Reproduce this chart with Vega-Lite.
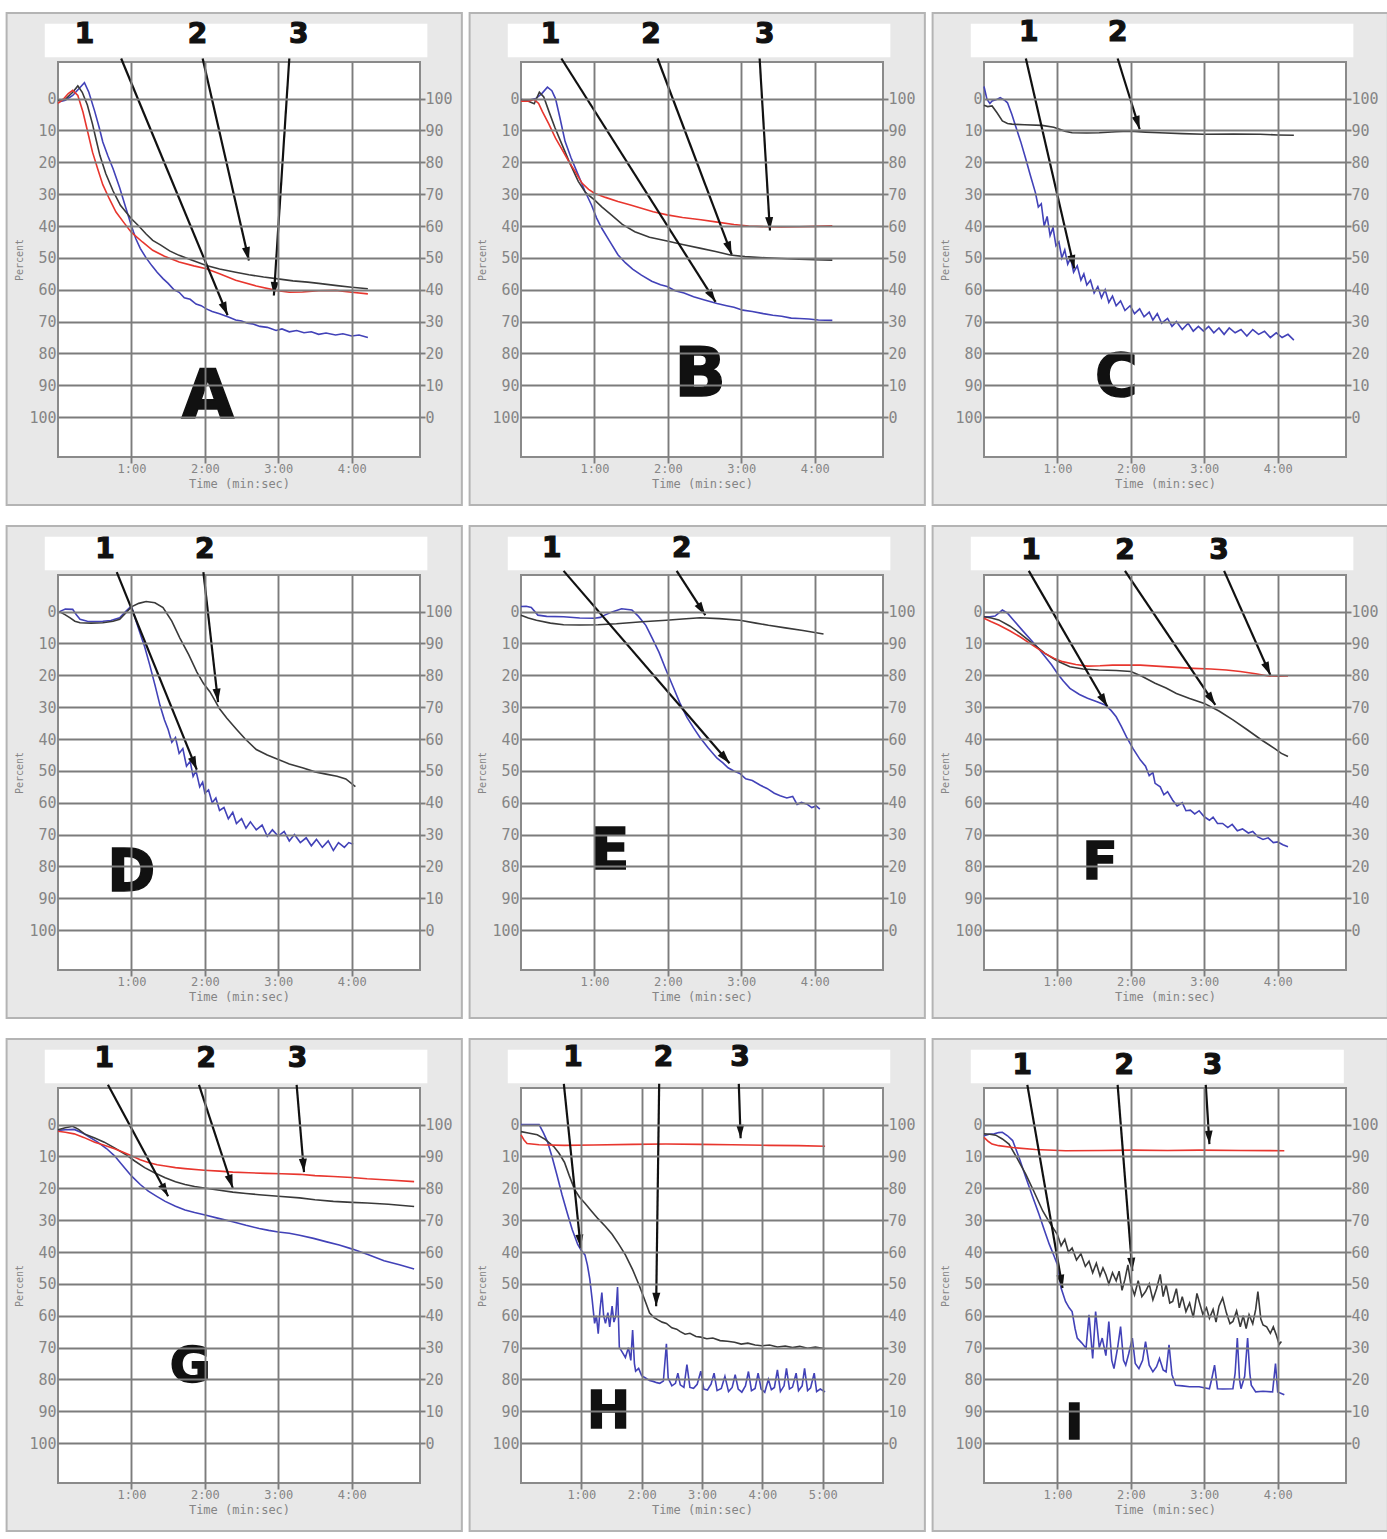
{
"$schema": "https://vega.github.io/schema/vega-lite/v6.json",
"padding": {"left": 5, "top": 11, "right": 0, "bottom": 0},
"background": "white",
"columns": 3,
"spacing": {"row": 17, "column": 5},
"config": {
"view": {"stroke": null},
"axis": {"domain": false, "gridColor": "#7c7c7c", "gridWidth": 1.9, "tickColor": "#7c7c7c", "tickWidth": 1.9, "labelFont": "DejaVu Sans Mono", "labelColor": "#858585", "titleFont": "DejaVu Sans Mono", "titleColor": "#858585", "titleFontWeight": "normal"},
"axisBottom": {"grid": true, "tickSize": 6, "labelFontSize": 12, "labelPadding": 0, "titleFontSize": 12, "titlePadding": 4},
"axisLeft": {"grid": true, "ticks": false, "labelFontSize": 15, "labelPadding": 2, "titleFontSize": 10, "titlePadding": 4},
"axisRight": {"grid": false, "ticks": true, "tickSize": 5, "labelFontSize": 15, "labelPadding": 0},
"text": {"font": "DejaVu Sans", "fontWeight": "bold", "color": "#111", "stroke": "#111"}
},
"datasets": {
"A": [
{"s":"b","t":0.02,"v":1},{"s":"b","t":0.1,"v":0.5},{"s":"b","t":0.2,"v":-1},{"s":"b","t":0.3,"v":-3.5},{"s":"b","t":0.36,"v":-5},{"s":"b","t":0.42,"v":-2},{"s":"b","t":0.5,"v":4},{"s":"b","t":0.56,"v":9},{"s":"b","t":0.61,"v":13.6},{"s":"b","t":0.68,"v":18},{"s":"b","t":0.75,"v":22},{"s":"b","t":0.84,"v":28},{"s":"b","t":0.92,"v":34},{"s":"b","t":1.0,"v":40},{"s":"b","t":1.06,"v":44},{"s":"b","t":1.12,"v":47},{"s":"b","t":1.2,"v":50},{"s":"b","t":1.28,"v":52.5},{"s":"b","t":1.35,"v":54.5},{"s":"b","t":1.43,"v":56.5},{"s":"b","t":1.5,"v":58},{"s":"b","t":1.58,"v":60},{"s":"b","t":1.65,"v":60.8},{"s":"b","t":1.72,"v":62.5},{"s":"b","t":1.8,"v":63},{"s":"b","t":1.88,"v":64.5},{"s":"b","t":1.95,"v":65},{"s":"b","t":2.02,"v":66},{"s":"b","t":2.1,"v":66.8},{"s":"b","t":2.2,"v":67.5},{"s":"b","t":2.33,"v":68.6},{"s":"b","t":2.42,"v":69.5},{"s":"b","t":2.5,"v":69.8},{"s":"b","t":2.58,"v":70.5},{"s":"b","t":2.65,"v":70.7},{"s":"b","t":2.75,"v":71.5},{"s":"b","t":2.85,"v":71.8},{"s":"b","t":2.97,"v":72.8},{"s":"b","t":3.05,"v":72.3},{"s":"b","t":3.15,"v":73.2},{"s":"b","t":3.25,"v":72.8},{"s":"b","t":3.35,"v":73.5},{"s":"b","t":3.45,"v":73.2},{"s":"b","t":3.55,"v":74},{"s":"b","t":3.65,"v":73.6},{"s":"b","t":3.78,"v":74.2},{"s":"b","t":3.88,"v":73.8},{"s":"b","t":4.0,"v":74.5},{"s":"b","t":4.1,"v":74.2},{"s":"b","t":4.22,"v":75},
{"s":"k","t":0,"v":0.5},{"s":"k","t":0.1,"v":0.2},{"s":"k","t":0.2,"v":-2},{"s":"k","t":0.27,"v":-4},{"s":"k","t":0.33,"v":-2},{"s":"k","t":0.4,"v":2},{"s":"k","t":0.47,"v":8},{"s":"k","t":0.52,"v":13},{"s":"k","t":0.57,"v":17.8},{"s":"k","t":0.65,"v":23.5},{"s":"k","t":0.75,"v":29},{"s":"k","t":0.85,"v":33.5},{"s":"k","t":1.0,"v":37.7},{"s":"k","t":1.1,"v":40},{"s":"k","t":1.2,"v":42.5},{"s":"k","t":1.29,"v":44.5},{"s":"k","t":1.4,"v":46},{"s":"k","t":1.52,"v":47.8},{"s":"k","t":1.65,"v":49.2},{"s":"k","t":1.8,"v":50.5},{"s":"k","t":2.02,"v":52.4},{"s":"k","t":2.2,"v":53.5},{"s":"k","t":2.42,"v":54.5},{"s":"k","t":2.6,"v":55.3},{"s":"k","t":2.8,"v":56},{"s":"k","t":2.97,"v":56.5},{"s":"k","t":3.2,"v":57.2},{"s":"k","t":3.4,"v":57.6},{"s":"k","t":3.55,"v":58},{"s":"k","t":3.8,"v":58.7},{"s":"k","t":4.0,"v":59.2},{"s":"k","t":4.22,"v":59.7},
{"s":"r","t":0,"v":1.5},{"s":"r","t":0.08,"v":0},{"s":"r","t":0.14,"v":-1.6},{"s":"r","t":0.2,"v":-2.6},{"s":"r","t":0.27,"v":-1},{"s":"r","t":0.34,"v":4.2},{"s":"r","t":0.4,"v":10},{"s":"r","t":0.47,"v":16.8},{"s":"r","t":0.54,"v":22},{"s":"r","t":0.61,"v":27},{"s":"r","t":0.7,"v":31.5},{"s":"r","t":0.79,"v":35.6},{"s":"r","t":0.9,"v":39},{"s":"r","t":1.0,"v":42},{"s":"r","t":1.15,"v":45},{"s":"r","t":1.29,"v":47.6},{"s":"r","t":1.45,"v":49.5},{"s":"r","t":1.65,"v":51.3},{"s":"r","t":1.85,"v":52.5},{"s":"r","t":2.02,"v":53.4},{"s":"r","t":2.2,"v":55},{"s":"r","t":2.42,"v":57},{"s":"r","t":2.7,"v":58.8},{"s":"r","t":2.97,"v":60.2},{"s":"r","t":3.15,"v":60.8},{"s":"r","t":3.33,"v":60.7},{"s":"r","t":3.55,"v":60.3},{"s":"r","t":3.78,"v":60.2},{"s":"r","t":4.0,"v":60.8},{"s":"r","t":4.22,"v":61.3}
],
"B": [
{"s":"b","t":0,"v":0.3},{"s":"b","t":0.1,"v":0.5},{"s":"b","t":0.2,"v":0},{"s":"b","t":0.28,"v":-1.5},{"s":"b","t":0.36,"v":-3.6},{"s":"b","t":0.42,"v":-2.5},{"s":"b","t":0.47,"v":0},{"s":"b","t":0.53,"v":6},{"s":"b","t":0.6,"v":13.4},{"s":"b","t":0.68,"v":18.5},{"s":"b","t":0.78,"v":24},{"s":"b","t":0.87,"v":29},{"s":"b","t":0.96,"v":33.4},{"s":"b","t":1.03,"v":37.5},{"s":"b","t":1.1,"v":40.7},{"s":"b","t":1.2,"v":44.5},{"s":"b","t":1.32,"v":49},{"s":"b","t":1.42,"v":51.5},{"s":"b","t":1.52,"v":53.5},{"s":"b","t":1.64,"v":55.4},{"s":"b","t":1.78,"v":57.3},{"s":"b","t":1.9,"v":58.4},{"s":"b","t":1.99,"v":59},{"s":"b","t":2.1,"v":60.3},{"s":"b","t":2.22,"v":61},{"s":"b","t":2.35,"v":62.2},{"s":"b","t":2.5,"v":63.2},{"s":"b","t":2.67,"v":64.3},{"s":"b","t":2.8,"v":65},{"s":"b","t":2.9,"v":65.5},{"s":"b","t":3.02,"v":66.4},{"s":"b","t":3.15,"v":66.8},{"s":"b","t":3.3,"v":67.5},{"s":"b","t":3.43,"v":68},{"s":"b","t":3.55,"v":68.3},{"s":"b","t":3.68,"v":68.9},{"s":"b","t":3.79,"v":69},{"s":"b","t":3.92,"v":69.2},{"s":"b","t":4.05,"v":69.5},{"s":"b","t":4.24,"v":69.6},
{"s":"k","t":0,"v":0.3},{"s":"k","t":0.1,"v":0.8},{"s":"k","t":0.18,"v":1.6},{"s":"k","t":0.25,"v":-2},{"s":"k","t":0.31,"v":-0.5},{"s":"k","t":0.38,"v":4},{"s":"k","t":0.46,"v":9},{"s":"k","t":0.56,"v":14.5},{"s":"k","t":0.66,"v":20},{"s":"k","t":0.78,"v":26},{"s":"k","t":0.88,"v":29.5},{"s":"k","t":1.0,"v":31.8},{"s":"k","t":1.1,"v":34},{"s":"k","t":1.23,"v":36.5},{"s":"k","t":1.38,"v":39.5},{"s":"k","t":1.55,"v":41.8},{"s":"k","t":1.75,"v":43.5},{"s":"k","t":1.99,"v":44.7},{"s":"k","t":2.2,"v":45.8},{"s":"k","t":2.45,"v":47},{"s":"k","t":2.65,"v":48},{"s":"k","t":2.85,"v":49.1},{"s":"k","t":3.05,"v":49.6},{"s":"k","t":3.34,"v":50},{"s":"k","t":3.55,"v":50.2},{"s":"k","t":3.79,"v":50.4},{"s":"k","t":4.0,"v":50.6},{"s":"k","t":4.24,"v":50.7},
{"s":"r","t":0,"v":0.8},{"s":"r","t":0.1,"v":0.8},{"s":"r","t":0.18,"v":0.3},{"s":"r","t":0.24,"v":1.5},{"s":"r","t":0.29,"v":4},{"s":"r","t":0.38,"v":8},{"s":"r","t":0.47,"v":12.4},{"s":"r","t":0.56,"v":16},{"s":"r","t":0.65,"v":19.7},{"s":"r","t":0.74,"v":23},{"s":"r","t":0.83,"v":26.5},{"s":"r","t":0.92,"v":28.5},{"s":"r","t":1.0,"v":29.7},{"s":"r","t":1.15,"v":31},{"s":"r","t":1.32,"v":32.3},{"s":"r","t":1.48,"v":33.3},{"s":"r","t":1.64,"v":34.4},{"s":"r","t":1.8,"v":35.5},{"s":"r","t":1.99,"v":36.5},{"s":"r","t":2.2,"v":37.3},{"s":"r","t":2.45,"v":38},{"s":"r","t":2.65,"v":38.7},{"s":"r","t":2.9,"v":39.5},{"s":"r","t":3.1,"v":40},{"s":"r","t":3.34,"v":40.2},{"s":"r","t":3.55,"v":40.3},{"s":"r","t":3.79,"v":40.2},{"s":"r","t":4.0,"v":40.1},{"s":"r","t":4.24,"v":39.9}
],
"C": [
{"s":"b","t":0,"v":-3.8},{"s":"b","t":0.04,"v":0.2},{"s":"b","t":0.08,"v":1.5},{"s":"b","t":0.11,"v":0.7},{"s":"b","t":0.17,"v":0.3},{"s":"b","t":0.22,"v":-0.3},{"s":"b","t":0.28,"v":0.5},{"s":"b","t":0.32,"v":1.3},{"s":"b","t":0.38,"v":5},{"s":"b","t":0.43,"v":8.6},{"s":"b","t":0.5,"v":13.5},{"s":"b","t":0.57,"v":19},{"s":"b","t":0.63,"v":24},{"s":"b","t":0.7,"v":29.5},{"s":"b","t":0.74,"v":34},{"s":"b","t":0.78,"v":33},{"s":"b","t":0.82,"v":40},{"s":"b","t":0.86,"v":37},{"s":"b","t":0.9,"v":43},{"s":"b","t":0.94,"v":40.5},{"s":"b","t":0.98,"v":46.2},{"s":"b","t":1.02,"v":45},{"s":"b","t":1.06,"v":50},{"s":"b","t":1.1,"v":47.5},{"s":"b","t":1.14,"v":52},{"s":"b","t":1.18,"v":50},{"s":"b","t":1.22,"v":54.5},{"s":"b","t":1.27,"v":52.5},{"s":"b","t":1.32,"v":57},{"s":"b","t":1.36,"v":55},{"s":"b","t":1.4,"v":58.5},{"s":"b","t":1.45,"v":57},{"s":"b","t":1.5,"v":61},{"s":"b","t":1.55,"v":59},{"s":"b","t":1.6,"v":62.5},{"s":"b","t":1.65,"v":60},{"s":"b","t":1.7,"v":64},{"s":"b","t":1.75,"v":62},{"s":"b","t":1.8,"v":65},{"s":"b","t":1.86,"v":63.5},{"s":"b","t":1.92,"v":66.5},{"s":"b","t":1.99,"v":65},{"s":"b","t":2.05,"v":67.5},{"s":"b","t":2.12,"v":66},{"s":"b","t":2.18,"v":68.5},{"s":"b","t":2.25,"v":67},{"s":"b","t":2.3,"v":69.5},{"s":"b","t":2.36,"v":67.5},{"s":"b","t":2.42,"v":70.5},{"s":"b","t":2.5,"v":69},{"s":"b","t":2.56,"v":71.5},{"s":"b","t":2.62,"v":70},{"s":"b","t":2.7,"v":72.5},{"s":"b","t":2.78,"v":70.5},{"s":"b","t":2.85,"v":73},{"s":"b","t":2.92,"v":71.5},{"s":"b","t":2.99,"v":73},{"s":"b","t":3.06,"v":71.5},{"s":"b","t":3.13,"v":73.5},{"s":"b","t":3.2,"v":72},{"s":"b","t":3.27,"v":74},{"s":"b","t":3.34,"v":72},{"s":"b","t":3.42,"v":73.5},{"s":"b","t":3.5,"v":72.5},{"s":"b","t":3.58,"v":74.5},{"s":"b","t":3.66,"v":72.5},{"s":"b","t":3.74,"v":74},{"s":"b","t":3.82,"v":73},{"s":"b","t":3.9,"v":75},{"s":"b","t":3.98,"v":73.5},{"s":"b","t":4.06,"v":75},{"s":"b","t":4.14,"v":74},{"s":"b","t":4.22,"v":75.8},
{"s":"k","t":0,"v":2.1},{"s":"k","t":0.05,"v":2.5},{"s":"k","t":0.11,"v":2.3},{"s":"k","t":0.18,"v":4.5},{"s":"k","t":0.25,"v":7},{"s":"k","t":0.32,"v":7.8},{"s":"k","t":0.38,"v":8},{"s":"k","t":0.55,"v":8.2},{"s":"k","t":0.79,"v":8.4},{"s":"k","t":0.95,"v":9},{"s":"k","t":1.1,"v":10.2},{"s":"k","t":1.2,"v":10.7},{"s":"k","t":1.4,"v":10.8},{"s":"k","t":1.57,"v":10.7},{"s":"k","t":1.8,"v":10.4},{"s":"k","t":1.99,"v":10.2},{"s":"k","t":2.2,"v":10.5},{"s":"k","t":2.39,"v":10.7},{"s":"k","t":2.7,"v":11},{"s":"k","t":2.99,"v":11.2},{"s":"k","t":3.4,"v":11.1},{"s":"k","t":3.76,"v":11.2},{"s":"k","t":4.0,"v":11.4},{"s":"k","t":4.22,"v":11.5}
],
"D": [
{"s":"b","t":0.02,"v":0},{"s":"b","t":0.1,"v":-0.8},{"s":"b","t":0.2,"v":-0.7},{"s":"b","t":0.25,"v":1},{"s":"b","t":0.3,"v":2.4},{"s":"b","t":0.4,"v":3},{"s":"b","t":0.5,"v":3.1},{"s":"b","t":0.61,"v":3},{"s":"b","t":0.72,"v":2.8},{"s":"b","t":0.84,"v":1.9},{"s":"b","t":0.92,"v":0},{"s":"b","t":1.0,"v":-1.8},{"s":"b","t":1.05,"v":2},{"s":"b","t":1.11,"v":6.2},{"s":"b","t":1.18,"v":11},{"s":"b","t":1.25,"v":16.8},{"s":"b","t":1.32,"v":23},{"s":"b","t":1.39,"v":29.5},{"s":"b","t":1.45,"v":34},{"s":"b","t":1.5,"v":37},{"s":"b","t":1.55,"v":41},{"s":"b","t":1.6,"v":39.5},{"s":"b","t":1.65,"v":44.5},{"s":"b","t":1.7,"v":43},{"s":"b","t":1.75,"v":48.5},{"s":"b","t":1.8,"v":47},{"s":"b","t":1.84,"v":51.7},{"s":"b","t":1.88,"v":50},{"s":"b","t":1.93,"v":55},{"s":"b","t":1.97,"v":53.5},{"s":"b","t":2.0,"v":57},{"s":"b","t":2.05,"v":56},{"s":"b","t":2.1,"v":60},{"s":"b","t":2.15,"v":58.5},{"s":"b","t":2.2,"v":62.4},{"s":"b","t":2.26,"v":61.5},{"s":"b","t":2.32,"v":65},{"s":"b","t":2.38,"v":63},{"s":"b","t":2.43,"v":66.5},{"s":"b","t":2.5,"v":65},{"s":"b","t":2.56,"v":68},{"s":"b","t":2.62,"v":66},{"s":"b","t":2.7,"v":68.5},{"s":"b","t":2.78,"v":67},{"s":"b","t":2.85,"v":70.5},{"s":"b","t":2.92,"v":68.5},{"s":"b","t":3.0,"v":70.5},{"s":"b","t":3.08,"v":69},{"s":"b","t":3.15,"v":72},{"s":"b","t":3.22,"v":70},{"s":"b","t":3.3,"v":72.5},{"s":"b","t":3.38,"v":71},{"s":"b","t":3.45,"v":73.5},{"s":"b","t":3.52,"v":71.5},{"s":"b","t":3.6,"v":74},{"s":"b","t":3.68,"v":72},{"s":"b","t":3.75,"v":75},{"s":"b","t":3.82,"v":72.5},{"s":"b","t":3.9,"v":74},{"s":"b","t":3.96,"v":72.5},{"s":"b","t":4.02,"v":73},
{"s":"k","t":0.02,"v":0},{"s":"k","t":0.1,"v":1},{"s":"k","t":0.16,"v":1.9},{"s":"k","t":0.23,"v":3},{"s":"k","t":0.3,"v":3.5},{"s":"k","t":0.45,"v":3.6},{"s":"k","t":0.61,"v":3.5},{"s":"k","t":0.75,"v":3},{"s":"k","t":0.84,"v":2.4},{"s":"k","t":0.92,"v":0.5},{"s":"k","t":1.0,"v":-1.5},{"s":"k","t":1.1,"v":-2.6},{"s":"k","t":1.2,"v":-3.2},{"s":"k","t":1.32,"v":-2.8},{"s":"k","t":1.43,"v":-1.3},{"s":"k","t":1.55,"v":3},{"s":"k","t":1.66,"v":8.3},{"s":"k","t":1.78,"v":13.5},{"s":"k","t":1.89,"v":18.9},{"s":"k","t":1.98,"v":22.5},{"s":"k","t":2.07,"v":25.2},{"s":"k","t":2.14,"v":28},{"s":"k","t":2.2,"v":30.5},{"s":"k","t":2.3,"v":33.5},{"s":"k","t":2.43,"v":36.9},{"s":"k","t":2.55,"v":40},{"s":"k","t":2.7,"v":43.3},{"s":"k","t":2.85,"v":45},{"s":"k","t":3.0,"v":46.4},{"s":"k","t":3.15,"v":47.8},{"s":"k","t":3.34,"v":49.1},{"s":"k","t":3.5,"v":50.3},{"s":"k","t":3.65,"v":51},{"s":"k","t":3.8,"v":51.7},{"s":"k","t":3.92,"v":52.5},{"s":"k","t":4.05,"v":54.9}
],
"E": [
{"s":"b","t":0,"v":-1.6},{"s":"b","t":0.07,"v":-1.7},{"s":"b","t":0.14,"v":-1.3},{"s":"b","t":0.23,"v":1.1},{"s":"b","t":0.35,"v":1.5},{"s":"b","t":0.58,"v":1.6},{"s":"b","t":0.8,"v":2},{"s":"b","t":1.0,"v":2.1},{"s":"b","t":1.08,"v":1.8},{"s":"b","t":1.14,"v":1.1},{"s":"b","t":1.25,"v":0},{"s":"b","t":1.37,"v":-0.9},{"s":"b","t":1.51,"v":-0.5},{"s":"b","t":1.6,"v":1.5},{"s":"b","t":1.7,"v":4.3},{"s":"b","t":1.79,"v":8.5},{"s":"b","t":1.88,"v":12.8},{"s":"b","t":1.97,"v":18},{"s":"b","t":2.07,"v":23.5},{"s":"b","t":2.16,"v":28.5},{"s":"b","t":2.26,"v":33.2},{"s":"b","t":2.35,"v":36.5},{"s":"b","t":2.44,"v":39.6},{"s":"b","t":2.55,"v":42.8},{"s":"b","t":2.67,"v":46},{"s":"b","t":2.75,"v":47.5},{"s":"b","t":2.82,"v":49},{"s":"b","t":2.9,"v":50},{"s":"b","t":2.98,"v":50.8},{"s":"b","t":3.06,"v":52.5},{"s":"b","t":3.15,"v":53},{"s":"b","t":3.26,"v":54.5},{"s":"b","t":3.35,"v":55.5},{"s":"b","t":3.45,"v":57},{"s":"b","t":3.53,"v":57.8},{"s":"b","t":3.62,"v":58.5},{"s":"b","t":3.7,"v":58},{"s":"b","t":3.76,"v":60.5},{"s":"b","t":3.82,"v":59.9},{"s":"b","t":3.9,"v":60.5},{"s":"b","t":3.96,"v":61.5},{"s":"b","t":4.02,"v":61},{"s":"b","t":4.07,"v":62},
{"s":"k","t":0,"v":1.1},{"s":"k","t":0.1,"v":2},{"s":"k","t":0.21,"v":2.7},{"s":"k","t":0.4,"v":3.6},{"s":"k","t":0.58,"v":4.1},{"s":"k","t":0.8,"v":4.2},{"s":"k","t":1.05,"v":4.1},{"s":"k","t":1.3,"v":3.8},{"s":"k","t":1.65,"v":3.2},{"s":"k","t":1.98,"v":2.7},{"s":"k","t":2.2,"v":2.3},{"s":"k","t":2.44,"v":1.9},{"s":"k","t":2.7,"v":2.2},{"s":"k","t":2.98,"v":2.7},{"s":"k","t":3.2,"v":3.6},{"s":"k","t":3.37,"v":4.3},{"s":"k","t":3.6,"v":5.1},{"s":"k","t":3.84,"v":5.9},{"s":"k","t":4.12,"v":7}
],
"F": [
{"s":"b","t":0,"v":1.6},{"s":"b","t":0.08,"v":1.6},{"s":"b","t":0.15,"v":1.4},{"s":"b","t":0.2,"v":0.5},{"s":"b","t":0.25,"v":-0.5},{"s":"b","t":0.32,"v":0.5},{"s":"b","t":0.4,"v":2.6},{"s":"b","t":0.52,"v":5.8},{"s":"b","t":0.64,"v":8.9},{"s":"b","t":0.74,"v":11.5},{"s":"b","t":0.83,"v":14.1},{"s":"b","t":0.92,"v":16.7},{"s":"b","t":1.0,"v":19.4},{"s":"b","t":1.08,"v":21.8},{"s":"b","t":1.17,"v":24.1},{"s":"b","t":1.3,"v":26},{"s":"b","t":1.41,"v":27.2},{"s":"b","t":1.53,"v":28.2},{"s":"b","t":1.65,"v":29.3},{"s":"b","t":1.73,"v":31},{"s":"b","t":1.8,"v":33},{"s":"b","t":1.87,"v":36},{"s":"b","t":1.94,"v":39.3},{"s":"b","t":2.03,"v":43},{"s":"b","t":2.13,"v":46.6},{"s":"b","t":2.2,"v":48.5},{"s":"b","t":2.25,"v":51.5},{"s":"b","t":2.3,"v":50.5},{"s":"b","t":2.33,"v":53.9},{"s":"b","t":2.4,"v":55},{"s":"b","t":2.45,"v":57.5},{"s":"b","t":2.5,"v":56.5},{"s":"b","t":2.57,"v":59.2},{"s":"b","t":2.63,"v":61},{"s":"b","t":2.7,"v":60},{"s":"b","t":2.75,"v":62.5},{"s":"b","t":2.81,"v":62.3},{"s":"b","t":2.87,"v":63.5},{"s":"b","t":2.93,"v":62.5},{"s":"b","t":3.0,"v":64.4},{"s":"b","t":3.07,"v":65.5},{"s":"b","t":3.12,"v":64.5},{"s":"b","t":3.18,"v":66.5},{"s":"b","t":3.25,"v":66.5},{"s":"b","t":3.32,"v":67.8},{"s":"b","t":3.38,"v":66.8},{"s":"b","t":3.45,"v":68.8},{"s":"b","t":3.52,"v":68.2},{"s":"b","t":3.6,"v":69.5},{"s":"b","t":3.66,"v":69},{"s":"b","t":3.73,"v":70.7},{"s":"b","t":3.8,"v":71.5},{"s":"b","t":3.87,"v":71},{"s":"b","t":3.94,"v":72.5},{"s":"b","t":4.0,"v":72.3},{"s":"b","t":4.07,"v":73.2},{"s":"b","t":4.14,"v":73.8},
{"s":"k","t":0,"v":1.6},{"s":"k","t":0.1,"v":2},{"s":"k","t":0.2,"v":2.6},{"s":"k","t":0.35,"v":4.5},{"s":"k","t":0.49,"v":6.8},{"s":"k","t":0.66,"v":10},{"s":"k","t":0.83,"v":13.1},{"s":"k","t":1.0,"v":15.5},{"s":"k","t":1.17,"v":17.3},{"s":"k","t":1.35,"v":18},{"s":"k","t":1.56,"v":18.3},{"s":"k","t":1.8,"v":18.5},{"s":"k","t":2.0,"v":18.8},{"s":"k","t":2.15,"v":20.3},{"s":"k","t":2.33,"v":22.5},{"s":"k","t":2.48,"v":24},{"s":"k","t":2.62,"v":25.7},{"s":"k","t":2.8,"v":27.3},{"s":"k","t":3.0,"v":28.8},{"s":"k","t":3.2,"v":31.2},{"s":"k","t":3.39,"v":34},{"s":"k","t":3.58,"v":37},{"s":"k","t":3.78,"v":40.3},{"s":"k","t":3.96,"v":43},{"s":"k","t":4.05,"v":44.5},{"s":"k","t":4.14,"v":45.5},
{"s":"r","t":0,"v":2.1},{"s":"r","t":0.1,"v":3.2},{"s":"r","t":0.2,"v":4.2},{"s":"r","t":0.35,"v":6},{"s":"r","t":0.49,"v":7.9},{"s":"r","t":0.66,"v":10.5},{"s":"r","t":0.83,"v":13.1},{"s":"r","t":0.95,"v":14.6},{"s":"r","t":1.07,"v":15.7},{"s":"r","t":1.25,"v":16.6},{"s":"r","t":1.41,"v":17.1},{"s":"r","t":1.58,"v":17},{"s":"r","t":1.75,"v":16.8},{"s":"r","t":1.95,"v":16.8},{"s":"r","t":2.13,"v":16.8},{"s":"r","t":2.4,"v":17.2},{"s":"r","t":2.62,"v":17.5},{"s":"r","t":2.85,"v":17.8},{"s":"r","t":3.09,"v":18},{"s":"r","t":3.3,"v":18.3},{"s":"r","t":3.49,"v":18.8},{"s":"r","t":3.7,"v":19.5},{"s":"r","t":3.87,"v":20.2},{"s":"r","t":4.0,"v":20.3},{"s":"r","t":4.14,"v":20.2}
],
"G": [
{"s":"b","t":0,"v":1.8},{"s":"b","t":0.1,"v":1.6},{"s":"b","t":0.22,"v":1.5},{"s":"b","t":0.35,"v":2.8},{"s":"b","t":0.54,"v":5.5},{"s":"b","t":0.66,"v":7.5},{"s":"b","t":0.77,"v":9.8},{"s":"b","t":0.88,"v":12.8},{"s":"b","t":1.0,"v":16.1},{"s":"b","t":1.12,"v":18.8},{"s":"b","t":1.23,"v":20.9},{"s":"b","t":1.35,"v":22.6},{"s":"b","t":1.46,"v":24.1},{"s":"b","t":1.6,"v":25.6},{"s":"b","t":1.73,"v":26.8},{"s":"b","t":1.86,"v":27.6},{"s":"b","t":1.99,"v":28.3},{"s":"b","t":2.2,"v":29.5},{"s":"b","t":2.38,"v":30.5},{"s":"b","t":2.56,"v":31.6},{"s":"b","t":2.74,"v":32.6},{"s":"b","t":2.87,"v":33.2},{"s":"b","t":3.0,"v":33.7},{"s":"b","t":3.15,"v":34.1},{"s":"b","t":3.29,"v":34.7},{"s":"b","t":3.48,"v":35.7},{"s":"b","t":3.66,"v":36.8},{"s":"b","t":3.83,"v":37.8},{"s":"b","t":4.0,"v":39},{"s":"b","t":4.22,"v":40.8},{"s":"b","t":4.44,"v":42.7},{"s":"b","t":4.65,"v":44},{"s":"b","t":4.85,"v":45.3},
{"s":"k","t":0,"v":1.6},{"s":"k","t":0.1,"v":1},{"s":"k","t":0.2,"v":0.5},{"s":"k","t":0.28,"v":1.5},{"s":"k","t":0.36,"v":2.9},{"s":"k","t":0.5,"v":4.2},{"s":"k","t":0.63,"v":5.5},{"s":"k","t":0.77,"v":7.3},{"s":"k","t":0.91,"v":9.2},{"s":"k","t":1.05,"v":11.5},{"s":"k","t":1.18,"v":13.5},{"s":"k","t":1.32,"v":15.2},{"s":"k","t":1.46,"v":16.7},{"s":"k","t":1.6,"v":17.9},{"s":"k","t":1.73,"v":18.8},{"s":"k","t":1.86,"v":19.4},{"s":"k","t":1.99,"v":19.9},{"s":"k","t":2.2,"v":20.6},{"s":"k","t":2.38,"v":21.2},{"s":"k","t":2.56,"v":21.6},{"s":"k","t":2.74,"v":22},{"s":"k","t":3.0,"v":22.5},{"s":"k","t":3.29,"v":23},{"s":"k","t":3.5,"v":23.6},{"s":"k","t":3.75,"v":24.1},{"s":"k","t":4.0,"v":24.4},{"s":"k","t":4.21,"v":24.6},{"s":"k","t":4.5,"v":25},{"s":"k","t":4.85,"v":25.7},
{"s":"r","t":0,"v":2.1},{"s":"r","t":0.1,"v":2.4},{"s":"r","t":0.22,"v":2.9},{"s":"r","t":0.35,"v":4},{"s":"r","t":0.5,"v":5.5},{"s":"r","t":0.63,"v":6.5},{"s":"r","t":0.77,"v":7.6},{"s":"r","t":0.88,"v":8.6},{"s":"r","t":1.0,"v":9.8},{"s":"r","t":1.12,"v":11},{"s":"r","t":1.23,"v":11.9},{"s":"r","t":1.35,"v":12.6},{"s":"r","t":1.46,"v":13},{"s":"r","t":1.6,"v":13.5},{"s":"r","t":1.73,"v":13.8},{"s":"r","t":1.99,"v":14.3},{"s":"r","t":2.2,"v":14.6},{"s":"r","t":2.38,"v":14.9},{"s":"r","t":2.6,"v":15.1},{"s":"r","t":2.83,"v":15.3},{"s":"r","t":3.05,"v":15.4},{"s":"r","t":3.29,"v":15.6},{"s":"r","t":3.5,"v":16},{"s":"r","t":3.75,"v":16.3},{"s":"r","t":4.0,"v":16.6},{"s":"r","t":4.21,"v":17},{"s":"r","t":4.5,"v":17.4},{"s":"r","t":4.85,"v":17.9}
],
"H": [
{"s":"b","t":0,"v":0},{"s":"b","t":0.15,"v":0},{"s":"b","t":0.3,"v":0},{"s":"b","t":0.37,"v":2.5},{"s":"b","t":0.44,"v":5.4},{"s":"b","t":0.52,"v":10.5},{"s":"b","t":0.6,"v":16.1},{"s":"b","t":0.68,"v":22},{"s":"b","t":0.77,"v":28},{"s":"b","t":0.85,"v":33},{"s":"b","t":0.94,"v":37.6},{"s":"b","t":1.0,"v":39.5},{"s":"b","t":1.06,"v":40.9},{"s":"b","t":1.1,"v":44},{"s":"b","t":1.14,"v":48.4},{"s":"b","t":1.18,"v":55},{"s":"b","t":1.22,"v":62.4},{"s":"b","t":1.25,"v":60},{"s":"b","t":1.28,"v":65.6},{"s":"b","t":1.31,"v":58},{"s":"b","t":1.34,"v":52.7},{"s":"b","t":1.37,"v":60},{"s":"b","t":1.4,"v":62.4},{"s":"b","t":1.44,"v":59},{"s":"b","t":1.47,"v":63.5},{"s":"b","t":1.51,"v":57},{"s":"b","t":1.54,"v":62},{"s":"b","t":1.57,"v":60.2},{"s":"b","t":1.6,"v":51},{"s":"b","t":1.63,"v":69.9},{"s":"b","t":1.68,"v":71.5},{"s":"b","t":1.73,"v":73.1},{"s":"b","t":1.78,"v":70},{"s":"b","t":1.82,"v":74},{"s":"b","t":1.85,"v":64.5},{"s":"b","t":1.88,"v":75},{"s":"b","t":1.9,"v":77.4},{"s":"b","t":1.95,"v":76.5},{"s":"b","t":2.0,"v":78.8},{"s":"b","t":2.07,"v":79.6},{"s":"b","t":2.13,"v":80.3},{"s":"b","t":2.19,"v":80.6},{"s":"b","t":2.25,"v":81},{"s":"b","t":2.3,"v":81.2},{"s":"b","t":2.36,"v":80.5},{"s":"b","t":2.41,"v":68.8},{"s":"b","t":2.44,"v":79.6},{"s":"b","t":2.5,"v":82},{"s":"b","t":2.56,"v":81.2},{"s":"b","t":2.6,"v":78},{"s":"b","t":2.64,"v":81.7},{"s":"b","t":2.7,"v":82.5},{"s":"b","t":2.75,"v":75.3},{"s":"b","t":2.8,"v":82.5},{"s":"b","t":2.86,"v":82.8},{"s":"b","t":2.92,"v":81.5},{"s":"b","t":2.98,"v":77.4},{"s":"b","t":3.03,"v":83},{"s":"b","t":3.09,"v":83.3},{"s":"b","t":3.15,"v":81.5},{"s":"b","t":3.2,"v":78},{"s":"b","t":3.25,"v":83.5},{"s":"b","t":3.32,"v":82.8},{"s":"b","t":3.38,"v":79},{"s":"b","t":3.44,"v":83.8},{"s":"b","t":3.5,"v":82.5},{"s":"b","t":3.55,"v":78.5},{"s":"b","t":3.6,"v":83},{"s":"b","t":3.66,"v":84},{"s":"b","t":3.72,"v":82},{"s":"b","t":3.77,"v":77.5},{"s":"b","t":3.82,"v":83.5},{"s":"b","t":3.88,"v":82.8},{"s":"b","t":3.93,"v":78},{"s":"b","t":3.98,"v":83},{"s":"b","t":4.04,"v":84},{"s":"b","t":4.1,"v":80},{"s":"b","t":4.15,"v":83.2},{"s":"b","t":4.2,"v":82.5},{"s":"b","t":4.25,"v":77},{"s":"b","t":4.3,"v":83.8},{"s":"b","t":4.36,"v":82},{"s":"b","t":4.4,"v":76.5},{"s":"b","t":4.45,"v":83},{"s":"b","t":4.5,"v":82.4},{"s":"b","t":4.56,"v":78},{"s":"b","t":4.6,"v":83.5},{"s":"b","t":4.66,"v":82},{"s":"b","t":4.7,"v":76.5},{"s":"b","t":4.75,"v":83.5},{"s":"b","t":4.8,"v":82.6},{"s":"b","t":4.86,"v":78},{"s":"b","t":4.9,"v":83.8},{"s":"b","t":4.96,"v":83},{"s":"b","t":5.04,"v":83.9},
{"s":"k","t":0,"v":2.2},{"s":"k","t":0.12,"v":2.6},{"s":"k","t":0.27,"v":3.2},{"s":"k","t":0.4,"v":4.6},{"s":"k","t":0.55,"v":7},{"s":"k","t":0.63,"v":9},{"s":"k","t":0.72,"v":11.8},{"s":"k","t":0.8,"v":16},{"s":"k","t":0.89,"v":20.4},{"s":"k","t":0.97,"v":22.8},{"s":"k","t":1.06,"v":24.7},{"s":"k","t":1.17,"v":27.2},{"s":"k","t":1.28,"v":29.6},{"s":"k","t":1.4,"v":32},{"s":"k","t":1.51,"v":34.4},{"s":"k","t":1.62,"v":37.5},{"s":"k","t":1.73,"v":40.9},{"s":"k","t":1.85,"v":45.5},{"s":"k","t":1.96,"v":50.5},{"s":"k","t":2.05,"v":55},{"s":"k","t":2.13,"v":59.1},{"s":"k","t":2.2,"v":60.5},{"s":"k","t":2.27,"v":61.3},{"s":"k","t":2.34,"v":62},{"s":"k","t":2.41,"v":62.4},{"s":"k","t":2.5,"v":63.8},{"s":"k","t":2.58,"v":64.2},{"s":"k","t":2.64,"v":65},{"s":"k","t":2.72,"v":65.8},{"s":"k","t":2.8,"v":65.5},{"s":"k","t":2.9,"v":66.5},{"s":"k","t":2.98,"v":66.7},{"s":"k","t":3.08,"v":67.2},{"s":"k","t":3.18,"v":67},{"s":"k","t":3.3,"v":67.8},{"s":"k","t":3.42,"v":68},{"s":"k","t":3.54,"v":68.3},{"s":"k","t":3.65,"v":68.9},{"s":"k","t":3.76,"v":68.6},{"s":"k","t":3.88,"v":69.2},{"s":"k","t":3.99,"v":69.4},{"s":"k","t":4.12,"v":69.2},{"s":"k","t":4.25,"v":69.8},{"s":"k","t":4.38,"v":69.5},{"s":"k","t":4.5,"v":70},{"s":"k","t":4.62,"v":69.6},{"s":"k","t":4.75,"v":70.2},{"s":"k","t":4.88,"v":69.8},{"s":"k","t":5.04,"v":70.4},
{"s":"r","t":0,"v":3.2},{"s":"r","t":0.05,"v":4.8},{"s":"r","t":0.1,"v":5.9},{"s":"r","t":0.3,"v":6.3},{"s":"r","t":0.72,"v":6.5},{"s":"r","t":1.2,"v":6.4},{"s":"r","t":1.85,"v":6.2},{"s":"r","t":2.4,"v":6.1},{"s":"r","t":2.98,"v":6.2},{"s":"r","t":3.5,"v":6.3},{"s":"r","t":4.1,"v":6.5},{"s":"r","t":4.6,"v":6.6},{"s":"r","t":5.04,"v":6.8}
],
"I": [
{"s":"b","t":0,"v":3.5},{"s":"b","t":0.07,"v":3},{"s":"b","t":0.14,"v":2.9},{"s":"b","t":0.2,"v":2.5},{"s":"b","t":0.25,"v":2.4},{"s":"b","t":0.32,"v":3.5},{"s":"b","t":0.39,"v":5},{"s":"b","t":0.48,"v":10.5},{"s":"b","t":0.57,"v":16.6},{"s":"b","t":0.66,"v":22.5},{"s":"b","t":0.75,"v":28.2},{"s":"b","t":0.82,"v":33},{"s":"b","t":0.89,"v":37.6},{"s":"b","t":0.95,"v":41},{"s":"b","t":1.0,"v":44},{"s":"b","t":1.05,"v":51.3},{"s":"b","t":1.11,"v":55.5},{"s":"b","t":1.16,"v":57.5},{"s":"b","t":1.2,"v":58.7},{"s":"b","t":1.24,"v":64},{"s":"b","t":1.27,"v":67},{"s":"b","t":1.33,"v":68.5},{"s":"b","t":1.39,"v":70.2},{"s":"b","t":1.43,"v":59.7},{"s":"b","t":1.48,"v":73.4},{"s":"b","t":1.52,"v":58.7},{"s":"b","t":1.57,"v":70},{"s":"b","t":1.61,"v":67},{"s":"b","t":1.66,"v":72.5},{"s":"b","t":1.7,"v":61.8},{"s":"b","t":1.74,"v":74},{"s":"b","t":1.77,"v":76.6},{"s":"b","t":1.82,"v":70},{"s":"b","t":1.86,"v":63.4},{"s":"b","t":1.9,"v":74},{"s":"b","t":1.93,"v":75.5},{"s":"b","t":1.97,"v":72},{"s":"b","t":2.02,"v":67},{"s":"b","t":2.06,"v":75},{"s":"b","t":2.11,"v":76.6},{"s":"b","t":2.16,"v":74},{"s":"b","t":2.2,"v":68.1},{"s":"b","t":2.25,"v":75.5},{"s":"b","t":2.3,"v":77.6},{"s":"b","t":2.35,"v":76},{"s":"b","t":2.39,"v":73.4},{"s":"b","t":2.44,"v":77},{"s":"b","t":2.48,"v":77.6},{"s":"b","t":2.52,"v":69.1},{"s":"b","t":2.56,"v":78.5},{"s":"b","t":2.61,"v":81.8},{"s":"b","t":2.7,"v":82},{"s":"b","t":2.8,"v":82.3},{"s":"b","t":2.93,"v":82.3},{"s":"b","t":3.07,"v":82.9},{"s":"b","t":3.1,"v":80},{"s":"b","t":3.14,"v":75.5},{"s":"b","t":3.18,"v":82.9},{"s":"b","t":3.25,"v":83},{"s":"b","t":3.39,"v":82.9},{"s":"b","t":3.42,"v":78},{"s":"b","t":3.45,"v":67},{"s":"b","t":3.48,"v":80},{"s":"b","t":3.5,"v":82.9},{"s":"b","t":3.55,"v":79},{"s":"b","t":3.59,"v":67},{"s":"b","t":3.62,"v":78},{"s":"b","t":3.64,"v":81.8},{"s":"b","t":3.7,"v":83.9},{"s":"b","t":3.8,"v":83.7},{"s":"b","t":3.93,"v":83.9},{"s":"b","t":3.97,"v":75},{"s":"b","t":4.0,"v":83.9},{"s":"b","t":4.09,"v":84.8},
{"s":"k","t":0,"v":2.9},{"s":"k","t":0.08,"v":3},{"s":"k","t":0.16,"v":3.3},{"s":"k","t":0.25,"v":4.5},{"s":"k","t":0.34,"v":6.1},{"s":"k","t":0.45,"v":10.5},{"s":"k","t":0.57,"v":15.6},{"s":"k","t":0.68,"v":21},{"s":"k","t":0.8,"v":27.1},{"s":"k","t":0.9,"v":31},{"s":"k","t":1.0,"v":34.5},{"s":"k","t":1.05,"v":38},{"s":"k","t":1.1,"v":36},{"s":"k","t":1.15,"v":40},{"s":"k","t":1.2,"v":38.7},{"s":"k","t":1.26,"v":42.5},{"s":"k","t":1.32,"v":40.5},{"s":"k","t":1.38,"v":44.5},{"s":"k","t":1.43,"v":42.9},{"s":"k","t":1.48,"v":46.5},{"s":"k","t":1.53,"v":43.5},{"s":"k","t":1.58,"v":47.5},{"s":"k","t":1.62,"v":45},{"s":"k","t":1.66,"v":47.1},{"s":"k","t":1.7,"v":50},{"s":"k","t":1.75,"v":46.5},{"s":"k","t":1.8,"v":49},{"s":"k","t":1.84,"v":46},{"s":"k","t":1.88,"v":52},{"s":"k","t":1.92,"v":48.5},{"s":"k","t":1.96,"v":44},{"s":"k","t":2.0,"v":50.2},{"s":"k","t":2.05,"v":53.5},{"s":"k","t":2.1,"v":49},{"s":"k","t":2.15,"v":54},{"s":"k","t":2.2,"v":52.4},{"s":"k","t":2.25,"v":50},{"s":"k","t":2.3,"v":55},{"s":"k","t":2.35,"v":51.5},{"s":"k","t":2.4,"v":47},{"s":"k","t":2.44,"v":54},{"s":"k","t":2.48,"v":50.2},{"s":"k","t":2.53,"v":56},{"s":"k","t":2.57,"v":55.5},{"s":"k","t":2.62,"v":51.5},{"s":"k","t":2.66,"v":57.5},{"s":"k","t":2.7,"v":54},{"s":"k","t":2.75,"v":58.7},{"s":"k","t":2.8,"v":56},{"s":"k","t":2.85,"v":60.5},{"s":"k","t":2.9,"v":53},{"s":"k","t":2.93,"v":55.5},{"s":"k","t":2.98,"v":59.5},{"s":"k","t":3.03,"v":57.5},{"s":"k","t":3.07,"v":60.8},{"s":"k","t":3.12,"v":58},{"s":"k","t":3.16,"v":62},{"s":"k","t":3.2,"v":57},{"s":"k","t":3.25,"v":54.4},{"s":"k","t":3.3,"v":59},{"s":"k","t":3.35,"v":62.5},{"s":"k","t":3.39,"v":61.8},{"s":"k","t":3.44,"v":58.5},{"s":"k","t":3.49,"v":63.5},{"s":"k","t":3.53,"v":60},{"s":"k","t":3.57,"v":64},{"s":"k","t":3.61,"v":59.7},{"s":"k","t":3.66,"v":62.5},{"s":"k","t":3.7,"v":58},{"s":"k","t":3.73,"v":52.4},{"s":"k","t":3.77,"v":61},{"s":"k","t":3.8,"v":62.9},{"s":"k","t":3.85,"v":63.5},{"s":"k","t":3.9,"v":65.5},{"s":"k","t":3.94,"v":63.5},{"s":"k","t":3.98,"v":66},{"s":"k","t":4.02,"v":69},{"s":"k","t":4.05,"v":68.1},
{"s":"r","t":0,"v":4},{"s":"r","t":0.06,"v":5.3},{"s":"r","t":0.11,"v":6.1},{"s":"r","t":0.2,"v":6.6},{"s":"r","t":0.39,"v":7.2},{"s":"r","t":0.7,"v":7.8},{"s":"r","t":1.11,"v":8.2},{"s":"r","t":1.6,"v":8.1},{"s":"r","t":2.02,"v":8},{"s":"r","t":2.5,"v":8.1},{"s":"r","t":2.93,"v":8},{"s":"r","t":3.5,"v":8.1},{"s":"r","t":4.09,"v":8.2}
],
"arrA": [{"x1":0.86,"y1":-12.6,"x2":2.31,"y2":68},{"x1":1.97,"y1":-12.6,"x2":2.6,"y2":50.8},{"x1":3.15,"y1":-12.6,"x2":2.94,"y2":61.8}],
"arrB": [{"x1":0.55,"y1":-12.6,"x2":2.65,"y2":63.8},{"x1":1.86,"y1":-12.6,"x2":2.87,"y2":49},{"x1":3.25,"y1":-12.6,"x2":3.39,"y2":41.4}],
"arrC": [{"x1":0.57,"y1":-12.6,"x2":1.23,"y2":53.3},{"x1":1.82,"y1":-12.6,"x2":2.12,"y2":9.6}],
"arrD": [{"x1":0.8,"y1":-12.4,"x2":1.89,"y2":49.6},{"x1":1.98,"y1":-12.4,"x2":2.18,"y2":28.4}],
"arrE": [{"x1":0.58,"y1":-12.8,"x2":2.84,"y2":47.6},{"x1":2.12,"y1":-12.8,"x2":2.51,"y2":1.1}],
"arrF": [{"x1":0.61,"y1":-12.8,"x2":1.68,"y2":29.8},{"x1":1.92,"y1":-12.8,"x2":3.15,"y2":29.3},{"x1":3.27,"y1":-12.8,"x2":3.9,"y2":19.9}],
"arrG": [{"x1":0.68,"y1":-12.5,"x2":1.5,"y2":22.5},{"x1":1.92,"y1":-12.5,"x2":2.38,"y2":19.9},{"x1":3.25,"y1":-12.5,"x2":3.35,"y2":14.9}],
"arrH": [{"x1":0.71,"y1":-12.8,"x2":0.99,"y2":38.7},{"x1":2.29,"y1":-12.8,"x2":2.24,"y2":57},{"x1":3.61,"y1":-12.8,"x2":3.64,"y2":4.3}],
"arrI": [{"x1":0.59,"y1":-12.5,"x2":1.07,"y2":51.3},{"x1":1.82,"y1":-12.5,"x2":2.02,"y2":46},{"x1":3.02,"y1":-12.5,"x2":3.07,"y2":6.1}],
"labA": [{"t":0.36,"v":-20,"lab":"1"},{"t":1.9,"v":-20,"lab":"2"},{"t":3.28,"v":-20,"lab":"3"}],
"labB": [{"t":0.4,"v":-20,"lab":"1"},{"t":1.77,"v":-20,"lab":"2"},{"t":3.32,"v":-20,"lab":"3"}],
"labC": [{"t":0.61,"v":-20.5,"lab":"1"},{"t":1.82,"v":-20.5,"lab":"2"}],
"labD": [{"t":0.64,"v":-19.3,"lab":"1"},{"t":2.0,"v":-19.3,"lab":"2"}],
"labE": [{"t":0.42,"v":-19.8,"lab":"1"},{"t":2.19,"v":-19.8,"lab":"2"}],
"labF": [{"t":0.64,"v":-19,"lab":"1"},{"t":1.92,"v":-19,"lab":"2"},{"t":3.2,"v":-19,"lab":"3"}],
"labG": [{"t":0.63,"v":-20.5,"lab":"1"},{"t":2.02,"v":-20.5,"lab":"2"},{"t":3.26,"v":-20.5,"lab":"3"}],
"labH": [{"t":0.86,"v":-21,"lab":"1"},{"t":2.36,"v":-21,"lab":"2"},{"t":3.63,"v":-21,"lab":"3"}],
"labI": [{"t":0.52,"v":-18.5,"lab":"1"},{"t":1.91,"v":-18.5,"lab":"2"},{"t":3.11,"v":-18.5,"lab":"3"}]
},
"concat": [
{"width": 362, "height": 395, "resolve": {"axis": {"x": "independent", "y": "independent"}}, "layer": [
{"data": {"values": [{}]}, "mark": {"type": "rect", "fill": "#e8e8e8", "stroke": "#b4b4b4", "strokeWidth": 2}, "encoding": {"x": {"datum": -0.7, "type": "quantitative", "scale": {"domain": [0, 4.93], "nice": false, "zero": false}, "axis": {"zindex": 1, "values": [1,2,3,4], "labelExpr": "datum.value + ':00'", "title": "Time  (min:sec)"}}, "x2": {"datum": 5.5}, "y": {"datum": -26.9, "type": "quantitative", "scale": {"domain": [-11.5, 112.5], "reverse": true, "nice": false, "zero": false}, "axis": {"zindex": 1, "values": [0,10,20,30,40,50,60,70,80,90,100], "title": "Percent"}}, "y2": {"datum": 127.6}}},
{"data": {"values": [{}]}, "mark": {"type": "rect", "fill": "white"}, "encoding": {"x": {"datum": -0.18, "type": "quantitative", "axis": null}, "x2": {"datum": 5.03}, "y": {"datum": -23.5, "type": "quantitative", "axis": {"zindex": 1, "orient": "right", "values": [0,10,20,30,40,50,60,70,80,90,100], "labelExpr": "'' + (100 - datum.value)", "title": null}}, "y2": {"datum": -13}}},
{"data": {"values": [{}]}, "mark": {"type": "rect", "fill": "white", "stroke": "#8a8a8a", "strokeWidth": 2}, "encoding": {"x": {"datum": 0, "type": "quantitative", "axis": null}, "x2": {"datum": 4.93}, "y": {"datum": -11.5, "type": "quantitative", "axis": null}, "y2": {"datum": 112.5}}},
{"data": {"name": "A"}, "mark": {"type": "line", "strokeWidth": 1.6}, "encoding": {"x": {"field": "t", "type": "quantitative", "axis": null}, "y": {"field": "v", "type": "quantitative", "axis": null}, "color": {"field": "s", "type": "nominal", "scale": {"domain": ["b","k","r"], "range": ["#4242b8","#3a3a3a","#e8362e"]}, "legend": null}}},
{"data": {"name": "arrA"}, "transform": [{"calculate": "atan2(-(datum.x2-datum.x1)*73.43,(datum.y2-datum.y1)*3.185)*180/PI", "as": "ang"}], "layer": [
{"mark": {"type": "rule", "color": "#111", "strokeWidth": 2.2}, "encoding": {"x": {"field": "x1", "type": "quantitative", "axis": null}, "y": {"field": "y1", "type": "quantitative", "axis": null}, "x2": {"field": "x2"}, "y2": {"field": "y2"}}},
{"mark": {"type": "point", "shape": "M0,0L-0.6,-2L0.6,-2Z", "filled": true, "color": "#111", "opacity": 1, "size": 180}, "encoding": {"x": {"field": "x2", "type": "quantitative", "axis": null}, "y": {"field": "y2", "type": "quantitative", "axis": null}, "angle": {"field": "ang", "type": "quantitative", "scale": null}}}]},
{"data": {"name": "labA"}, "mark": {"type": "text", "fontSize": 28, "strokeWidth": 1.2}, "encoding": {"x": {"field": "t", "type": "quantitative", "axis": null}, "y": {"field": "v", "type": "quantitative", "axis": null}, "text": {"field": "lab"}}},
{"data": {"values": [{"t": 2.04, "v": 94, "lab": "A"}]}, "mark": {"type": "text", "fontSize": 68, "strokeWidth": 1.5}, "encoding": {"x": {"field": "t", "type": "quantitative", "axis": null}, "y": {"field": "v", "type": "quantitative", "axis": null}, "text": {"field": "lab"}}}
]},
{"width": 362, "height": 395, "resolve": {"axis": {"x": "independent", "y": "independent"}}, "layer": [
{"data": {"values": [{}]}, "mark": {"type": "rect", "fill": "#e8e8e8", "stroke": "#b4b4b4", "strokeWidth": 2}, "encoding": {"x": {"datum": -0.7, "type": "quantitative", "scale": {"domain": [0, 4.93], "nice": false, "zero": false}, "axis": {"zindex": 1, "values": [1,2,3,4], "labelExpr": "datum.value + ':00'", "title": "Time  (min:sec)"}}, "x2": {"datum": 5.5}, "y": {"datum": -26.9, "type": "quantitative", "scale": {"domain": [-11.5, 112.5], "reverse": true, "nice": false, "zero": false}, "axis": {"zindex": 1, "values": [0,10,20,30,40,50,60,70,80,90,100], "title": "Percent"}}, "y2": {"datum": 127.6}}},
{"data": {"values": [{}]}, "mark": {"type": "rect", "fill": "white"}, "encoding": {"x": {"datum": -0.18, "type": "quantitative", "axis": null}, "x2": {"datum": 5.03}, "y": {"datum": -23.5, "type": "quantitative", "axis": {"zindex": 1, "orient": "right", "values": [0,10,20,30,40,50,60,70,80,90,100], "labelExpr": "'' + (100 - datum.value)", "title": null}}, "y2": {"datum": -13}}},
{"data": {"values": [{}]}, "mark": {"type": "rect", "fill": "white", "stroke": "#8a8a8a", "strokeWidth": 2}, "encoding": {"x": {"datum": 0, "type": "quantitative", "axis": null}, "x2": {"datum": 4.93}, "y": {"datum": -11.5, "type": "quantitative", "axis": null}, "y2": {"datum": 112.5}}},
{"data": {"name": "B"}, "mark": {"type": "line", "strokeWidth": 1.6}, "encoding": {"x": {"field": "t", "type": "quantitative", "axis": null}, "y": {"field": "v", "type": "quantitative", "axis": null}, "color": {"field": "s", "type": "nominal", "scale": {"domain": ["b","k","r"], "range": ["#4242b8","#3a3a3a","#e8362e"]}, "legend": null}}},
{"data": {"name": "arrB"}, "transform": [{"calculate": "atan2(-(datum.x2-datum.x1)*73.43,(datum.y2-datum.y1)*3.185)*180/PI", "as": "ang"}], "layer": [
{"mark": {"type": "rule", "color": "#111", "strokeWidth": 2.2}, "encoding": {"x": {"field": "x1", "type": "quantitative", "axis": null}, "y": {"field": "y1", "type": "quantitative", "axis": null}, "x2": {"field": "x2"}, "y2": {"field": "y2"}}},
{"mark": {"type": "point", "shape": "M0,0L-0.6,-2L0.6,-2Z", "filled": true, "color": "#111", "opacity": 1, "size": 180}, "encoding": {"x": {"field": "x2", "type": "quantitative", "axis": null}, "y": {"field": "y2", "type": "quantitative", "axis": null}, "angle": {"field": "ang", "type": "quantitative", "scale": null}}}]},
{"data": {"name": "labB"}, "mark": {"type": "text", "fontSize": 28, "strokeWidth": 1.2}, "encoding": {"x": {"field": "t", "type": "quantitative", "axis": null}, "y": {"field": "v", "type": "quantitative", "axis": null}, "text": {"field": "lab"}}},
{"data": {"values": [{"t": 2.44, "v": 87, "lab": "B"}]}, "mark": {"type": "text", "fontSize": 68, "strokeWidth": 1.5}, "encoding": {"x": {"field": "t", "type": "quantitative", "axis": null}, "y": {"field": "v", "type": "quantitative", "axis": null}, "text": {"field": "lab"}}}
]},
{"width": 362, "height": 395, "resolve": {"axis": {"x": "independent", "y": "independent"}}, "layer": [
{"data": {"values": [{}]}, "mark": {"type": "rect", "fill": "#e8e8e8", "stroke": "#b4b4b4", "strokeWidth": 2}, "encoding": {"x": {"datum": -0.7, "type": "quantitative", "scale": {"domain": [0, 4.93], "nice": false, "zero": false}, "axis": {"zindex": 1, "values": [1,2,3,4], "labelExpr": "datum.value + ':00'", "title": "Time  (min:sec)"}}, "x2": {"datum": 5.5}, "y": {"datum": -26.9, "type": "quantitative", "scale": {"domain": [-11.5, 112.5], "reverse": true, "nice": false, "zero": false}, "axis": {"zindex": 1, "values": [0,10,20,30,40,50,60,70,80,90,100], "title": "Percent"}}, "y2": {"datum": 127.6}}},
{"data": {"values": [{}]}, "mark": {"type": "rect", "fill": "white"}, "encoding": {"x": {"datum": -0.18, "type": "quantitative", "axis": null}, "x2": {"datum": 5.03}, "y": {"datum": -23.5, "type": "quantitative", "axis": {"zindex": 1, "orient": "right", "values": [0,10,20,30,40,50,60,70,80,90,100], "labelExpr": "'' + (100 - datum.value)", "title": null}}, "y2": {"datum": -13}}},
{"data": {"values": [{}]}, "mark": {"type": "rect", "fill": "white", "stroke": "#8a8a8a", "strokeWidth": 2}, "encoding": {"x": {"datum": 0, "type": "quantitative", "axis": null}, "x2": {"datum": 4.93}, "y": {"datum": -11.5, "type": "quantitative", "axis": null}, "y2": {"datum": 112.5}}},
{"data": {"name": "C"}, "mark": {"type": "line", "strokeWidth": 1.6}, "encoding": {"x": {"field": "t", "type": "quantitative", "axis": null}, "y": {"field": "v", "type": "quantitative", "axis": null}, "color": {"field": "s", "type": "nominal", "scale": {"domain": ["b","k","r"], "range": ["#4242b8","#3a3a3a","#e8362e"]}, "legend": null}}},
{"data": {"name": "arrC"}, "transform": [{"calculate": "atan2(-(datum.x2-datum.x1)*73.43,(datum.y2-datum.y1)*3.185)*180/PI", "as": "ang"}], "layer": [
{"mark": {"type": "rule", "color": "#111", "strokeWidth": 2.2}, "encoding": {"x": {"field": "x1", "type": "quantitative", "axis": null}, "y": {"field": "y1", "type": "quantitative", "axis": null}, "x2": {"field": "x2"}, "y2": {"field": "y2"}}},
{"mark": {"type": "point", "shape": "M0,0L-0.6,-2L0.6,-2Z", "filled": true, "color": "#111", "opacity": 1, "size": 180}, "encoding": {"x": {"field": "x2", "type": "quantitative", "axis": null}, "y": {"field": "y2", "type": "quantitative", "axis": null}, "angle": {"field": "ang", "type": "quantitative", "scale": null}}}]},
{"data": {"name": "labC"}, "mark": {"type": "text", "fontSize": 28, "strokeWidth": 1.2}, "encoding": {"x": {"field": "t", "type": "quantitative", "axis": null}, "y": {"field": "v", "type": "quantitative", "axis": null}, "text": {"field": "lab"}}},
{"data": {"values": [{"t": 1.8, "v": 88, "lab": "C"}]}, "mark": {"type": "text", "fontSize": 58, "strokeWidth": 1.5}, "encoding": {"x": {"field": "t", "type": "quantitative", "axis": null}, "y": {"field": "v", "type": "quantitative", "axis": null}, "text": {"field": "lab"}}}
]},
{"width": 362, "height": 395, "resolve": {"axis": {"x": "independent", "y": "independent"}}, "layer": [
{"data": {"values": [{}]}, "mark": {"type": "rect", "fill": "#e8e8e8", "stroke": "#b4b4b4", "strokeWidth": 2}, "encoding": {"x": {"datum": -0.7, "type": "quantitative", "scale": {"domain": [0, 4.93], "nice": false, "zero": false}, "axis": {"zindex": 1, "values": [1,2,3,4], "labelExpr": "datum.value + ':00'", "title": "Time  (min:sec)"}}, "x2": {"datum": 5.5}, "y": {"datum": -26.9, "type": "quantitative", "scale": {"domain": [-11.5, 112.5], "reverse": true, "nice": false, "zero": false}, "axis": {"zindex": 1, "values": [0,10,20,30,40,50,60,70,80,90,100], "title": "Percent"}}, "y2": {"datum": 127.6}}},
{"data": {"values": [{}]}, "mark": {"type": "rect", "fill": "white"}, "encoding": {"x": {"datum": -0.18, "type": "quantitative", "axis": null}, "x2": {"datum": 5.03}, "y": {"datum": -23.5, "type": "quantitative", "axis": {"zindex": 1, "orient": "right", "values": [0,10,20,30,40,50,60,70,80,90,100], "labelExpr": "'' + (100 - datum.value)", "title": null}}, "y2": {"datum": -13}}},
{"data": {"values": [{}]}, "mark": {"type": "rect", "fill": "white", "stroke": "#8a8a8a", "strokeWidth": 2}, "encoding": {"x": {"datum": 0, "type": "quantitative", "axis": null}, "x2": {"datum": 4.93}, "y": {"datum": -11.5, "type": "quantitative", "axis": null}, "y2": {"datum": 112.5}}},
{"data": {"name": "D"}, "mark": {"type": "line", "strokeWidth": 1.6}, "encoding": {"x": {"field": "t", "type": "quantitative", "axis": null}, "y": {"field": "v", "type": "quantitative", "axis": null}, "color": {"field": "s", "type": "nominal", "scale": {"domain": ["b","k","r"], "range": ["#4242b8","#3a3a3a","#e8362e"]}, "legend": null}}},
{"data": {"name": "arrD"}, "transform": [{"calculate": "atan2(-(datum.x2-datum.x1)*73.43,(datum.y2-datum.y1)*3.185)*180/PI", "as": "ang"}], "layer": [
{"mark": {"type": "rule", "color": "#111", "strokeWidth": 2.2}, "encoding": {"x": {"field": "x1", "type": "quantitative", "axis": null}, "y": {"field": "y1", "type": "quantitative", "axis": null}, "x2": {"field": "x2"}, "y2": {"field": "y2"}}},
{"mark": {"type": "point", "shape": "M0,0L-0.6,-2L0.6,-2Z", "filled": true, "color": "#111", "opacity": 1, "size": 180}, "encoding": {"x": {"field": "x2", "type": "quantitative", "axis": null}, "y": {"field": "y2", "type": "quantitative", "axis": null}, "angle": {"field": "ang", "type": "quantitative", "scale": null}}}]},
{"data": {"name": "labD"}, "mark": {"type": "text", "fontSize": 28, "strokeWidth": 1.2}, "encoding": {"x": {"field": "t", "type": "quantitative", "axis": null}, "y": {"field": "v", "type": "quantitative", "axis": null}, "text": {"field": "lab"}}},
{"data": {"values": [{"t": 1.0, "v": 82.5, "lab": "D"}]}, "mark": {"type": "text", "fontSize": 58, "strokeWidth": 1.5}, "encoding": {"x": {"field": "t", "type": "quantitative", "axis": null}, "y": {"field": "v", "type": "quantitative", "axis": null}, "text": {"field": "lab"}}}
]},
{"width": 362, "height": 395, "resolve": {"axis": {"x": "independent", "y": "independent"}}, "layer": [
{"data": {"values": [{}]}, "mark": {"type": "rect", "fill": "#e8e8e8", "stroke": "#b4b4b4", "strokeWidth": 2}, "encoding": {"x": {"datum": -0.7, "type": "quantitative", "scale": {"domain": [0, 4.93], "nice": false, "zero": false}, "axis": {"zindex": 1, "values": [1,2,3,4], "labelExpr": "datum.value + ':00'", "title": "Time  (min:sec)"}}, "x2": {"datum": 5.5}, "y": {"datum": -26.9, "type": "quantitative", "scale": {"domain": [-11.5, 112.5], "reverse": true, "nice": false, "zero": false}, "axis": {"zindex": 1, "values": [0,10,20,30,40,50,60,70,80,90,100], "title": "Percent"}}, "y2": {"datum": 127.6}}},
{"data": {"values": [{}]}, "mark": {"type": "rect", "fill": "white"}, "encoding": {"x": {"datum": -0.18, "type": "quantitative", "axis": null}, "x2": {"datum": 5.03}, "y": {"datum": -23.5, "type": "quantitative", "axis": {"zindex": 1, "orient": "right", "values": [0,10,20,30,40,50,60,70,80,90,100], "labelExpr": "'' + (100 - datum.value)", "title": null}}, "y2": {"datum": -13}}},
{"data": {"values": [{}]}, "mark": {"type": "rect", "fill": "white", "stroke": "#8a8a8a", "strokeWidth": 2}, "encoding": {"x": {"datum": 0, "type": "quantitative", "axis": null}, "x2": {"datum": 4.93}, "y": {"datum": -11.5, "type": "quantitative", "axis": null}, "y2": {"datum": 112.5}}},
{"data": {"name": "E"}, "mark": {"type": "line", "strokeWidth": 1.6}, "encoding": {"x": {"field": "t", "type": "quantitative", "axis": null}, "y": {"field": "v", "type": "quantitative", "axis": null}, "color": {"field": "s", "type": "nominal", "scale": {"domain": ["b","k","r"], "range": ["#4242b8","#3a3a3a","#e8362e"]}, "legend": null}}},
{"data": {"name": "arrE"}, "transform": [{"calculate": "atan2(-(datum.x2-datum.x1)*73.43,(datum.y2-datum.y1)*3.185)*180/PI", "as": "ang"}], "layer": [
{"mark": {"type": "rule", "color": "#111", "strokeWidth": 2.2}, "encoding": {"x": {"field": "x1", "type": "quantitative", "axis": null}, "y": {"field": "y1", "type": "quantitative", "axis": null}, "x2": {"field": "x2"}, "y2": {"field": "y2"}}},
{"mark": {"type": "point", "shape": "M0,0L-0.6,-2L0.6,-2Z", "filled": true, "color": "#111", "opacity": 1, "size": 180}, "encoding": {"x": {"field": "x2", "type": "quantitative", "axis": null}, "y": {"field": "y2", "type": "quantitative", "axis": null}, "angle": {"field": "ang", "type": "quantitative", "scale": null}}}]},
{"data": {"name": "labE"}, "mark": {"type": "text", "fontSize": 28, "strokeWidth": 1.2}, "encoding": {"x": {"field": "t", "type": "quantitative", "axis": null}, "y": {"field": "v", "type": "quantitative", "axis": null}, "text": {"field": "lab"}}},
{"data": {"values": [{"t": 1.21, "v": 75.4, "lab": "E"}]}, "mark": {"type": "text", "fontSize": 57, "strokeWidth": 1.5}, "encoding": {"x": {"field": "t", "type": "quantitative", "axis": null}, "y": {"field": "v", "type": "quantitative", "axis": null}, "text": {"field": "lab"}}}
]},
{"width": 362, "height": 395, "resolve": {"axis": {"x": "independent", "y": "independent"}}, "layer": [
{"data": {"values": [{}]}, "mark": {"type": "rect", "fill": "#e8e8e8", "stroke": "#b4b4b4", "strokeWidth": 2}, "encoding": {"x": {"datum": -0.7, "type": "quantitative", "scale": {"domain": [0, 4.93], "nice": false, "zero": false}, "axis": {"zindex": 1, "values": [1,2,3,4], "labelExpr": "datum.value + ':00'", "title": "Time  (min:sec)"}}, "x2": {"datum": 5.5}, "y": {"datum": -26.9, "type": "quantitative", "scale": {"domain": [-11.5, 112.5], "reverse": true, "nice": false, "zero": false}, "axis": {"zindex": 1, "values": [0,10,20,30,40,50,60,70,80,90,100], "title": "Percent"}}, "y2": {"datum": 127.6}}},
{"data": {"values": [{}]}, "mark": {"type": "rect", "fill": "white"}, "encoding": {"x": {"datum": -0.18, "type": "quantitative", "axis": null}, "x2": {"datum": 5.03}, "y": {"datum": -23.5, "type": "quantitative", "axis": {"zindex": 1, "orient": "right", "values": [0,10,20,30,40,50,60,70,80,90,100], "labelExpr": "'' + (100 - datum.value)", "title": null}}, "y2": {"datum": -13}}},
{"data": {"values": [{}]}, "mark": {"type": "rect", "fill": "white", "stroke": "#8a8a8a", "strokeWidth": 2}, "encoding": {"x": {"datum": 0, "type": "quantitative", "axis": null}, "x2": {"datum": 4.93}, "y": {"datum": -11.5, "type": "quantitative", "axis": null}, "y2": {"datum": 112.5}}},
{"data": {"name": "F"}, "mark": {"type": "line", "strokeWidth": 1.6}, "encoding": {"x": {"field": "t", "type": "quantitative", "axis": null}, "y": {"field": "v", "type": "quantitative", "axis": null}, "color": {"field": "s", "type": "nominal", "scale": {"domain": ["b","k","r"], "range": ["#4242b8","#3a3a3a","#e8362e"]}, "legend": null}}},
{"data": {"name": "arrF"}, "transform": [{"calculate": "atan2(-(datum.x2-datum.x1)*73.43,(datum.y2-datum.y1)*3.185)*180/PI", "as": "ang"}], "layer": [
{"mark": {"type": "rule", "color": "#111", "strokeWidth": 2.2}, "encoding": {"x": {"field": "x1", "type": "quantitative", "axis": null}, "y": {"field": "y1", "type": "quantitative", "axis": null}, "x2": {"field": "x2"}, "y2": {"field": "y2"}}},
{"mark": {"type": "point", "shape": "M0,0L-0.6,-2L0.6,-2Z", "filled": true, "color": "#111", "opacity": 1, "size": 180}, "encoding": {"x": {"field": "x2", "type": "quantitative", "axis": null}, "y": {"field": "y2", "type": "quantitative", "axis": null}, "angle": {"field": "ang", "type": "quantitative", "scale": null}}}]},
{"data": {"name": "labF"}, "mark": {"type": "text", "fontSize": 28, "strokeWidth": 1.2}, "encoding": {"x": {"field": "t", "type": "quantitative", "axis": null}, "y": {"field": "v", "type": "quantitative", "axis": null}, "text": {"field": "lab"}}},
{"data": {"values": [{"t": 1.58, "v": 79, "lab": "F"}]}, "mark": {"type": "text", "fontSize": 52, "strokeWidth": 1.5}, "encoding": {"x": {"field": "t", "type": "quantitative", "axis": null}, "y": {"field": "v", "type": "quantitative", "axis": null}, "text": {"field": "lab"}}}
]},
{"width": 362, "height": 395, "resolve": {"axis": {"x": "independent", "y": "independent"}}, "layer": [
{"data": {"values": [{}]}, "mark": {"type": "rect", "fill": "#e8e8e8", "stroke": "#b4b4b4", "strokeWidth": 2}, "encoding": {"x": {"datum": -0.7, "type": "quantitative", "scale": {"domain": [0, 4.93], "nice": false, "zero": false}, "axis": {"zindex": 1, "values": [1,2,3,4], "labelExpr": "datum.value + ':00'", "title": "Time  (min:sec)"}}, "x2": {"datum": 5.5}, "y": {"datum": -26.9, "type": "quantitative", "scale": {"domain": [-11.5, 112.5], "reverse": true, "nice": false, "zero": false}, "axis": {"zindex": 1, "values": [0,10,20,30,40,50,60,70,80,90,100], "title": "Percent"}}, "y2": {"datum": 127.6}}},
{"data": {"values": [{}]}, "mark": {"type": "rect", "fill": "white"}, "encoding": {"x": {"datum": -0.18, "type": "quantitative", "axis": null}, "x2": {"datum": 5.03}, "y": {"datum": -23.5, "type": "quantitative", "axis": {"zindex": 1, "orient": "right", "values": [0,10,20,30,40,50,60,70,80,90,100], "labelExpr": "'' + (100 - datum.value)", "title": null}}, "y2": {"datum": -13}}},
{"data": {"values": [{}]}, "mark": {"type": "rect", "fill": "white", "stroke": "#8a8a8a", "strokeWidth": 2}, "encoding": {"x": {"datum": 0, "type": "quantitative", "axis": null}, "x2": {"datum": 4.93}, "y": {"datum": -11.5, "type": "quantitative", "axis": null}, "y2": {"datum": 112.5}}},
{"data": {"name": "G"}, "mark": {"type": "line", "strokeWidth": 1.6}, "encoding": {"x": {"field": "t", "type": "quantitative", "axis": null}, "y": {"field": "v", "type": "quantitative", "axis": null}, "color": {"field": "s", "type": "nominal", "scale": {"domain": ["b","k","r"], "range": ["#4242b8","#3a3a3a","#e8362e"]}, "legend": null}}},
{"data": {"name": "arrG"}, "transform": [{"calculate": "atan2(-(datum.x2-datum.x1)*73.43,(datum.y2-datum.y1)*3.185)*180/PI", "as": "ang"}], "layer": [
{"mark": {"type": "rule", "color": "#111", "strokeWidth": 2.2}, "encoding": {"x": {"field": "x1", "type": "quantitative", "axis": null}, "y": {"field": "y1", "type": "quantitative", "axis": null}, "x2": {"field": "x2"}, "y2": {"field": "y2"}}},
{"mark": {"type": "point", "shape": "M0,0L-0.6,-2L0.6,-2Z", "filled": true, "color": "#111", "opacity": 1, "size": 180}, "encoding": {"x": {"field": "x2", "type": "quantitative", "axis": null}, "y": {"field": "y2", "type": "quantitative", "axis": null}, "angle": {"field": "ang", "type": "quantitative", "scale": null}}}]},
{"data": {"name": "labG"}, "mark": {"type": "text", "fontSize": 28, "strokeWidth": 1.2}, "encoding": {"x": {"field": "t", "type": "quantitative", "axis": null}, "y": {"field": "v", "type": "quantitative", "axis": null}, "text": {"field": "lab"}}},
{"data": {"values": [{"t": 1.8, "v": 76, "lab": "G"}]}, "mark": {"type": "text", "fontSize": 50, "strokeWidth": 1.5}, "encoding": {"x": {"field": "t", "type": "quantitative", "axis": null}, "y": {"field": "v", "type": "quantitative", "axis": null}, "text": {"field": "lab"}}}
]},
{"width": 362, "height": 395, "resolve": {"axis": {"x": "independent", "y": "independent"}}, "layer": [
{"data": {"values": [{}]}, "mark": {"type": "rect", "fill": "#e8e8e8", "stroke": "#b4b4b4", "strokeWidth": 2}, "encoding": {"x": {"datum": -0.852, "type": "quantitative", "scale": {"domain": [0, 6], "nice": false, "zero": false}, "axis": {"zindex": 1, "values": [1,2,3,4,5], "labelExpr": "datum.value + ':00'", "title": "Time  (min:sec)"}}, "x2": {"datum": 6.694}, "y": {"datum": -26.9, "type": "quantitative", "scale": {"domain": [-11.5, 112.5], "reverse": true, "nice": false, "zero": false}, "axis": {"zindex": 1, "values": [0,10,20,30,40,50,60,70,80,90,100], "title": "Percent"}}, "y2": {"datum": 127.6}}},
{"data": {"values": [{}]}, "mark": {"type": "rect", "fill": "white"}, "encoding": {"x": {"datum": -0.219, "type": "quantitative", "axis": null}, "x2": {"datum": 6.12}, "y": {"datum": -23.5, "type": "quantitative", "axis": {"zindex": 1, "orient": "right", "values": [0,10,20,30,40,50,60,70,80,90,100], "labelExpr": "'' + (100 - datum.value)", "title": null}}, "y2": {"datum": -13}}},
{"data": {"values": [{}]}, "mark": {"type": "rect", "fill": "white", "stroke": "#8a8a8a", "strokeWidth": 2}, "encoding": {"x": {"datum": 0, "type": "quantitative", "axis": null}, "x2": {"datum": 6}, "y": {"datum": -11.5, "type": "quantitative", "axis": null}, "y2": {"datum": 112.5}}},
{"data": {"name": "H"}, "mark": {"type": "line", "strokeWidth": 1.6}, "encoding": {"x": {"field": "t", "type": "quantitative", "axis": null}, "y": {"field": "v", "type": "quantitative", "axis": null}, "color": {"field": "s", "type": "nominal", "scale": {"domain": ["b","k","r"], "range": ["#4242b8","#3a3a3a","#e8362e"]}, "legend": null}}},
{"data": {"name": "arrH"}, "transform": [{"calculate": "atan2(-(datum.x2-datum.x1)*60.33,(datum.y2-datum.y1)*3.185)*180/PI", "as": "ang"}], "layer": [
{"mark": {"type": "rule", "color": "#111", "strokeWidth": 2.2}, "encoding": {"x": {"field": "x1", "type": "quantitative", "axis": null}, "y": {"field": "y1", "type": "quantitative", "axis": null}, "x2": {"field": "x2"}, "y2": {"field": "y2"}}},
{"mark": {"type": "point", "shape": "M0,0L-0.6,-2L0.6,-2Z", "filled": true, "color": "#111", "opacity": 1, "size": 180}, "encoding": {"x": {"field": "x2", "type": "quantitative", "axis": null}, "y": {"field": "y2", "type": "quantitative", "axis": null}, "angle": {"field": "ang", "type": "quantitative", "scale": null}}}]},
{"data": {"name": "labH"}, "mark": {"type": "text", "fontSize": 28, "strokeWidth": 1.2}, "encoding": {"x": {"field": "t", "type": "quantitative", "axis": null}, "y": {"field": "v", "type": "quantitative", "axis": null}, "text": {"field": "lab"}}},
{"data": {"values": [{"t": 1.45, "v": 90.3, "lab": "H"}]}, "mark": {"type": "text", "fontSize": 52, "strokeWidth": 1.5}, "encoding": {"x": {"field": "t", "type": "quantitative", "axis": null}, "y": {"field": "v", "type": "quantitative", "axis": null}, "text": {"field": "lab"}}}
]},
{"width": 362, "height": 395, "resolve": {"axis": {"x": "independent", "y": "independent"}}, "layer": [
{"data": {"values": [{}]}, "mark": {"type": "rect", "fill": "#e8e8e8", "stroke": "#b4b4b4", "strokeWidth": 2}, "encoding": {"x": {"datum": -0.7, "type": "quantitative", "scale": {"domain": [0, 4.93], "nice": false, "zero": false}, "axis": {"zindex": 1, "values": [1,2,3,4], "labelExpr": "datum.value + ':00'", "title": "Time  (min:sec)"}}, "x2": {"datum": 5.5}, "y": {"datum": -26.9, "type": "quantitative", "scale": {"domain": [-11.5, 112.5], "reverse": true, "nice": false, "zero": false}, "axis": {"zindex": 1, "values": [0,10,20,30,40,50,60,70,80,90,100], "title": "Percent"}}, "y2": {"datum": 127.6}}},
{"data": {"values": [{}]}, "mark": {"type": "rect", "fill": "white"}, "encoding": {"x": {"datum": -0.18, "type": "quantitative", "axis": null}, "x2": {"datum": 4.9}, "y": {"datum": -23.5, "type": "quantitative", "axis": {"zindex": 1, "orient": "right", "values": [0,10,20,30,40,50,60,70,80,90,100], "labelExpr": "'' + (100 - datum.value)", "title": null}}, "y2": {"datum": -13}}},
{"data": {"values": [{}]}, "mark": {"type": "rect", "fill": "white", "stroke": "#8a8a8a", "strokeWidth": 2}, "encoding": {"x": {"datum": 0, "type": "quantitative", "axis": null}, "x2": {"datum": 4.93}, "y": {"datum": -11.5, "type": "quantitative", "axis": null}, "y2": {"datum": 112.5}}},
{"data": {"name": "I"}, "mark": {"type": "line", "strokeWidth": 1.6}, "encoding": {"x": {"field": "t", "type": "quantitative", "axis": null}, "y": {"field": "v", "type": "quantitative", "axis": null}, "color": {"field": "s", "type": "nominal", "scale": {"domain": ["b","k","r"], "range": ["#4242b8","#3a3a3a","#e8362e"]}, "legend": null}}},
{"data": {"name": "arrI"}, "transform": [{"calculate": "atan2(-(datum.x2-datum.x1)*73.43,(datum.y2-datum.y1)*3.185)*180/PI", "as": "ang"}], "layer": [
{"mark": {"type": "rule", "color": "#111", "strokeWidth": 2.2}, "encoding": {"x": {"field": "x1", "type": "quantitative", "axis": null}, "y": {"field": "y1", "type": "quantitative", "axis": null}, "x2": {"field": "x2"}, "y2": {"field": "y2"}}},
{"mark": {"type": "point", "shape": "M0,0L-0.6,-2L0.6,-2Z", "filled": true, "color": "#111", "opacity": 1, "size": 180}, "encoding": {"x": {"field": "x2", "type": "quantitative", "axis": null}, "y": {"field": "y2", "type": "quantitative", "axis": null}, "angle": {"field": "ang", "type": "quantitative", "scale": null}}}]},
{"data": {"name": "labI"}, "mark": {"type": "text", "fontSize": 28, "strokeWidth": 1.2}, "encoding": {"x": {"field": "t", "type": "quantitative", "axis": null}, "y": {"field": "v", "type": "quantitative", "axis": null}, "text": {"field": "lab"}}},
{"data": {"values": [{"t": 1.23, "v": 93.9, "lab": "I"}]}, "mark": {"type": "text", "fontSize": 50, "strokeWidth": 1.5}, "encoding": {"x": {"field": "t", "type": "quantitative", "axis": null}, "y": {"field": "v", "type": "quantitative", "axis": null}, "text": {"field": "lab"}}}
]}
]
}
